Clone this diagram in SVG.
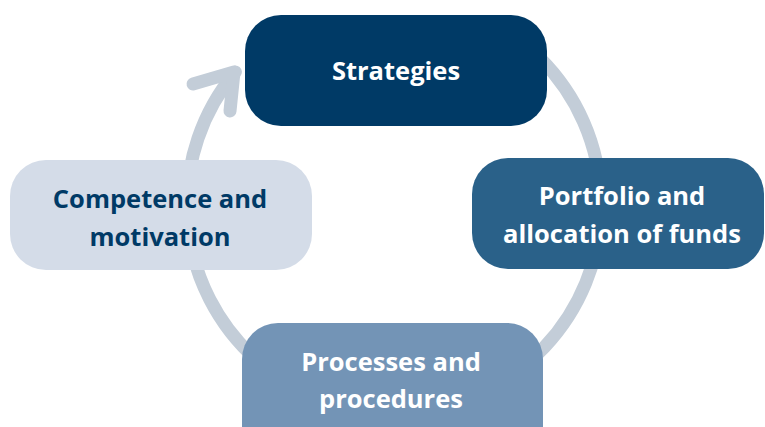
<svg xmlns="http://www.w3.org/2000/svg" width="765" height="427" viewBox="0 0 765 427">
<style>
.ring{fill:none;stroke:#c3cdd8;stroke-width:13;stroke-linecap:round;stroke-linejoin:round}
.lbl{font-family:"Open Sans","Noto Sans","Liberation Sans",sans-serif;font-weight:700;font-size:25.5px;text-anchor:middle}
.w{fill:#ffffff}
.d{fill:#003a66}
</style>
<rect width="765" height="427" fill="#ffffff"/>
<g id="connectors">
<path class="ring" d="M540.4,58.6 A207,207 0 1 1 235.4,71.9"/>
<path class="ring" d="M193,84 L234,72 L230,111"/>
</g>
<g id="strategies">
<rect x="245" y="15" width="302" height="111" rx="36" fill="#003a66"/>
<text class="lbl w" x="396" y="80">Strategies</text>
</g>
<g id="portfolio">
<rect x="472" y="158" width="292" height="111" rx="36" fill="#2a6189"/>
<text class="lbl w" x="622" y="205">Portfolio and</text>
<text class="lbl w" x="622" y="243">allocation of funds</text>
</g>
<g id="competence">
<rect x="10" y="160" width="302" height="110" rx="36" fill="#d4dce8"/>
<text class="lbl d" x="160" y="208">Competence and</text>
<text class="lbl d" x="160" y="246">motivation</text>
</g>
<g id="processes">
<rect x="242" y="323" width="301" height="140" rx="36" fill="#7394b6"/>
<text class="lbl w" x="391" y="371">Processes and</text>
<text class="lbl w" x="391" y="408">procedures</text>
</g>
</svg>
